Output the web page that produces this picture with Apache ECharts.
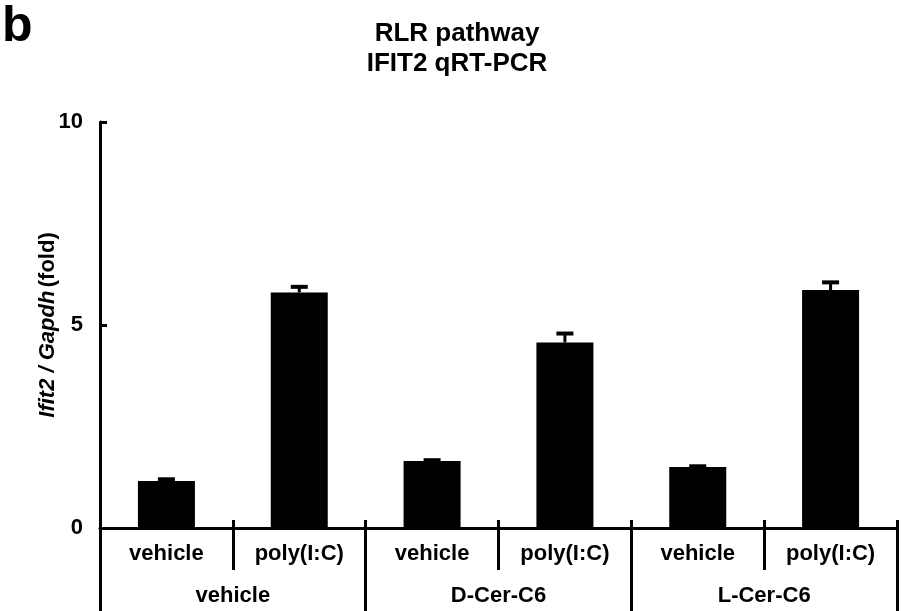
<!DOCTYPE html>
<html>
<head>
<meta charset="utf-8">
<title>RLR pathway IFIT2 qRT-PCR</title>
<script src="https://cdn.jsdelivr.net/npm/echarts@6/dist/echarts.min.js"></script>
<style>
html, body { margin: 0; padding: 0; background: #fff; }
#chart { width: 901px; height: 611px; }
</style>
</head>
<body>
<div id="chart"></div>
<script>
// treatment (lower row) and pre-treatment (group row) labels
const subLabels = ['vehicle', 'poly(I:C)', 'vehicle', 'poly(I:C)', 'vehicle', 'poly(I:C)']
const groupLabels = ['vehicle', 'D-Cer-C6', 'L-Cer-C6']
// Ifit2 / Gapdh fold, mean and upper error (SEM)
const means = [1.16, 5.80, 1.65, 4.57, 1.50, 5.86]
const errors = [0.04, 0.14, 0.02, 0.22, 0.02, 0.19]
const yMin = 0
const yMax = 10
const yStep = 5

const font = "'Liberation Sans', Arial, Helvetica, sans-serif"
const black = '#000'

let errData = means.map((m, i) => [i, m, errors[i]])

let option = {
  animation: false,
  backgroundColor: '#fff',
  textStyle: { fontFamily: font },
  title: [
    {
      text: 'RLR pathway\nIFIT2 qRT-PCR',
      left: 457,
      top: 19,
      padding: 0,
      textAlign: 'center',
      textStyle: {
        fontFamily: font,
        fontSize: 26,
        fontWeight: 'bold',
        color: black,
        lineHeight: 30
      }
    },
    {
      text: 'b',
      left: 2,
      top: 2,
      padding: 0,
      textStyle: {
        fontFamily: font,
        fontSize: 50,
        fontWeight: 'bold',
        color: black,
        lineHeight: 50
      }
    }
  ],
  grid: {
    left: 100,
    right: 4,
    top: 122,
    bottom: 83
  },
  xAxis: [
    {
      type: 'category',
      position: 'bottom',
      data: subLabels,
      axisLine: { show: true, onZero: false, lineStyle: { color: black, width: 3 } },
      axisTick: { show: true, interval: 0, length: 42, lineStyle: { color: black, width: 3 } },
      axisLabel: {
        interval: 0,
        margin: 15,
        color: black,
        fontFamily: font,
        fontSize: 22,
        fontWeight: 'bold'
      },
      splitLine: { show: false }
    },
    {
      type: 'category',
      position: 'bottom',
      data: groupLabels,
      axisLine: { show: false, onZero: false },
      axisTick: { show: true, interval: 0, length: 83, lineStyle: { color: black, width: 3 } },
      axisLabel: {
        interval: 0,
        margin: 57,
        color: black,
        fontFamily: font,
        fontSize: 22,
        fontWeight: 'bold'
      },
      splitLine: { show: false }
    },
    {
      type: 'category',
      position: 'bottom',
      data: subLabels,
      axisLine: { show: false, onZero: false },
      axisTick: { show: true, inside: true, interval: 0, length: 8, lineStyle: { color: black, width: 3 } },
      axisLabel: { show: false },
      splitLine: { show: false }
    }
  ],
  yAxis: {
    type: 'value',
    min: yMin,
    max: yMax,
    interval: yStep,
    name: '{i|Ifit2 / Gapdh} {n|(fold)}',
    nameLocation: 'middle',
    nameRotate: 90,
    nameGap: 41,
    nameMoveOverlap: false,
    nameTextStyle: {
      color: black,
      rich: {
        i: { fontFamily: font, fontSize: 22, fontWeight: 'bold', fontStyle: 'italic', color: black },
        n: { fontFamily: font, fontSize: 22, fontWeight: 'bold', color: black }
      }
    },
    axisLine: { show: true, lineStyle: { color: black, width: 3 } },
    axisTick: { show: true, inside: true, length: 7, lineStyle: { color: black, width: 3 } },
    axisLabel: {
      margin: 17,
      color: black,
      fontFamily: font,
      fontSize: 22,
      fontWeight: 'bold'
    },
    splitLine: { show: false }
  },
  series: [
    {
      type: 'bar',
      data: means,
      barWidth: 57,
      itemStyle: { color: black },
      silent: true
    },
    {
      type: 'custom',
      data: errData,
      encode: { x: 0, y: 1 },
      z: 3,
      renderItem: function(params, api) {
        let base = api.coord([api.value(0), api.value(1)])
        let top = api.coord([api.value(0), api.value(1) + api.value(2)])
        let half = 8.5
        return {
          type: 'group',
          children: [
            {
              type: 'line',
              shape: { x1: base[0], y1: base[1], x2: top[0], y2: top[1] },
              style: { stroke: black, lineWidth: 3 }
            },
            {
              type: 'line',
              shape: { x1: top[0] - half, y1: top[1], x2: top[0] + half, y2: top[1] },
              style: { stroke: black, lineWidth: 4 }
            }
          ]
        }
      }
    }
  ]
}

let myChart = echarts.init(document.getElementById('chart'), null, { renderer: 'canvas' })
myChart.setOption(option)
</script>
</body>
</html>
